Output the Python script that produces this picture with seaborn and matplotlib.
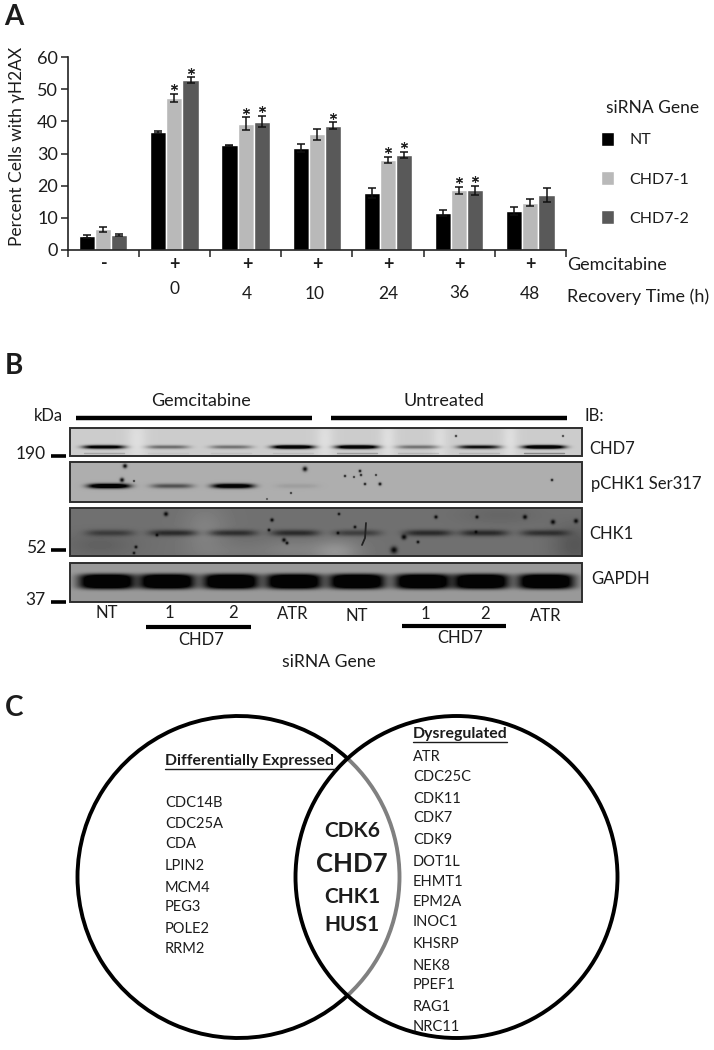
#!/usr/bin/env python3
import numpy as np
import pandas as pd
import matplotlib
matplotlib.use("Agg")
import matplotlib.pyplot as plt
from matplotlib.patches import Arc, Circle, Rectangle
import seaborn as sns

sns.set_theme(style="white")
plt.rcParams['font.family'] = ['Lato', 'DejaVu Sans']

W, H = 714, 1050

# Panel A values
groups = ['-', '0', '4', '10', '24', '36', '48']
treat_marks = ['-', '+', '+', '+', '+', '+', '+']
time_labels = ['', '0', '4', '10', '24', '36', '48']
genes = ['NT', 'CHD7-1', 'CHD7-2']
gene_colors = ['#000000', '#b9b9b9', '#595959']
nt_vals = [4.3, 36.8, 32.5, 31.7, 17.7, 11.5, 12.1]
chd7_1_vals = [6.5, 47.3, 39.2, 36.0, 28.0, 18.6, 14.7]
chd7_2_vals = [4.7, 52.8, 39.9, 38.7, 29.5, 18.6, 17.0]
nt_err = [0.5, 0.3, 0.2, 1.2, 1.5, 0.8, 1.2]
chd7_1_err = [0.8, 1.3, 2.0, 1.7, 1.0, 1.1, 1.1]
chd7_2_err = [0.4, 0.9, 1.8, 1.0, 1.0, 1.4, 2.2]
chd7_1_star = [0, 1, 1, 0, 1, 1, 0]
chd7_2_star = [0, 1, 1, 1, 1, 1, 0]

# Panel B band strengths, one per lane
lane_names = ['NT', '1', '2', 'ATR', 'NT', '1', '2', 'ATR']
chd7_bands = [0.80, 0.32, 0.30, 0.95, 0.95, 0.30, 0.65, 0.98]
chd7_lower = [0.25, 0.05, 0.08, 0.10, 0.30, 0.15, 0.15, 0.45]
pchk1_bands = [0.98, 0.36, 0.88, 0.06, 0, 0, 0, 0]
chk1_bands = [0.30, 0.42, 0.40, 0.42, 0.30, 0.42, 0.42, 0.38]
gapdh_bands = [1, 1, 1, 1, 1, 1, 1, 1]

# dust on the membranes: x, y, radius
pchk1_specks = [(125, 466, 2.2), (122, 480, 2.2), (305, 469, 2.4), (360, 471, 1.4), (361, 475, 1.2),
                (345, 476, 1.2), (354, 477, 1.0), (376, 475, 1.0), (365, 484, 1.3), (380, 484, 1.6),
                (134, 481, 1.0), (552, 480, 1.3), (291, 493, 1.0), (267, 499, 0.8)]
chk1_specks = [(166, 514, 2.2), (272, 520, 1.8), (269, 530, 1.5), (284, 540, 2.0), (287, 543, 1.6),
               (136, 547, 1.6), (134, 553, 1.4), (339, 514, 1.4), (355, 527, 1.5), (338, 533, 1.5),
               (436, 517, 1.8), (477, 517, 1.7), (476, 532, 1.5), (525, 517, 2.2), (553, 522, 2.3),
               (576, 521, 2.2), (404, 537, 2.6), (418, 542, 1.5), (394, 550, 3.4), (157, 535, 1.5)]
chd7_specks = [(456, 436, 1.1), (563, 436, 1.0)]
# lighter or darker clouds behind the bands: x, y, x radius, y radius, change
chk1_clouds = [(205, 530, 22, 25, 0.07), (100, 545, 35, 12, -0.06), (336, 552, 24, 12, 0.14),
               (290, 550, 28, 10, 0.06), (575, 545, 22, 20, -0.10), (230, 552, 40, 8, 0.03),
               (500, 515, 40, 10, -0.04)]
chd7_clouds = [(137, 440, 10, 30, 0.07), (325, 440, 9, 30, 0.07), (388, 440, 8, 30, 0.07),
               (510, 440, 8, 30, 0.07), (440, 440, 8, 30, 0.06)]

# Panel C gene lists
left_genes = ['CDC14B', 'CDC25A', 'CDA', 'LPIN2', 'MCM4', 'PEG3', 'POLE2', 'RRM2']
right_genes = ['ATR', 'CDC25C', 'CDK11', 'CDK7', 'CDK9', 'DOT1L', 'EHMT1', 'EPM2A',
               'INOC1', 'KHSRP', 'NEK8', 'PPEF1', 'RAG1', 'NRC11']
shared_genes = ['CDK6', 'CHD7', 'CHK1', 'HUS1']


def blot_strip(ax, y0, y1, bg, centers, strengths, half_w, band_y, half_h, specks=(), clouds=(), yexp=2):
    """Draw one blot strip as a grey image with soft bands, clouds and dust."""
    x0, x1 = 70, 582
    xx, yy = np.meshgrid(np.arange(x0, x1) + 0.5, np.arange(y0, y1) + 0.5)
    img = np.full(xx.shape, bg, dtype=float)
    for cx, cy, rx, ry, change in clouds:
        img = img + change * np.exp(-((xx - cx) / rx) ** 2 - ((yy - cy) / ry) ** 2)
    for cx, s in zip(centers, strengths):
        band = np.abs((yy - band_y) / half_h) ** yexp + ((xx - cx) / half_w) ** 4
        img = img * (1 - np.clip(1.5 * s * np.exp(-band), 0, 0.98))
    for sx, sy, sr in specks:
        img = img * (1 - 0.92 * np.exp(-((xx - sx) ** 2 + (yy - sy) ** 2) / sr ** 2))
    ax.imshow(img, extent=(x0, x1, y1, y0), cmap='gray', vmin=0, vmax=1,
              aspect='auto', interpolation='bilinear', zorder=1)
    ax.add_patch(Rectangle((x0, y0), x1 - x0, y1 - y0, fill=False, ec='#2e2e2e', lw=1.4, zorder=2))


fig = plt.figure(figsize=(W / 100, H / 100), dpi=100)
page = fig.add_axes([0, 0, 1, 1])
ink = '#1c1c1c'


def label(x, y, s, size=12, ha='left', weight='normal', **kw):
    page.text(x, y, s, fontsize=size, ha=ha, va='center', weight=weight, color=ink, **kw)


# Panel A
ax = fig.add_axes([67.6 / W, (H - 250) / H, (566 - 67.6) / W, 193 / H])
df = pd.DataFrame({
    'group': groups * 3,
    'gene': np.repeat(genes, len(groups)),
    'value': nt_vals + chd7_1_vals + chd7_2_vals,
})
sns.barplot(data=df, x='group', y='value', hue='gene', palette=gene_colors, hue_order=genes,
            order=groups, width=0.68, errorbar=None, saturation=1, ax=ax)
errs = [nt_err, chd7_1_err, chd7_2_err]
stars = [[0] * 7, chd7_1_star, chd7_2_star]
for cont, err, star in zip(ax.containers, errs, stars):
    xs = [p.get_x() + p.get_width() / 2 for p in cont]
    ys = [p.get_height() for p in cont]
    ax.errorbar(xs, ys, yerr=err, fmt='none', ecolor='#111111', elinewidth=1.1, capsize=3, capthick=1.1)
    for x, y, e, st in zip(xs, ys, err, star):
        if st:
            ax.plot(x, y + e + 2.0, marker=(6, 2, 0), ms=5, mew=0.8, color='#222222', clip_on=False)
ax.set_xlim(-0.5, 6.5)
ax.set_ylim(0, 60)
ax.set_xticks(np.arange(-0.5, 7))
ax.set_xticklabels([])
ax.set_yticks(range(0, 61, 10))
ax.tick_params(axis='both', direction='out', length=5, width=1.1, color='#222222', bottom=True, left=True)
ax.tick_params(axis='y', labelsize=13, pad=2, labelcolor=ink)
ax.set_xlabel('')
ax.set_ylabel('')
ax.patch.set_alpha(0)
sns.despine(ax=ax)
for side in ['left', 'bottom']:
    ax.spines[side].set_linewidth(1.2)
    ax.spines[side].set_color('#222222')
handles, names = ax.get_legend_handles_labels()
leg = ax.legend(handles, names, title='siRNA Gene', frameon=False, fontsize=11.5, title_fontsize=12.5,
                handlelength=0.85, handleheight=1.0, handletextpad=0.95, labelspacing=1.48,
                loc='upper left', bbox_to_anchor=(584 / W, (H - 86) / H), bbox_transform=fig.transFigure)
leg._legend_box.sep = 11
leg.get_title().set_position((8.0, 0))
for t in leg.get_texts() + [leg.get_title()]:
    t.set_color(ink)

# Panel labels and text sit on one page axes in pixel coordinates
label(14, 17, 'A', size=20, ha='center', weight='bold')
label(14, 366, 'B', size=20, ha='center', weight='bold')
label(14, 708, 'C', size=20, ha='center', weight='bold')
label(17, 146, 'Percent Cells with γH2AX', size=12.5, ha='center', rotation=90)
mark_xs = [104, 174, 247, 317, 388, 459, 530]
time_xs = [104, 175, 247, 315, 388, 459, 530]
time_ys = [294, 289, 294, 294, 294, 293, 294]
for x, m in zip(mark_xs, treat_marks):
    label(x, 264, m, size=13, ha='center', weight='bold')
for x, y, t in zip(time_xs, time_ys, time_labels):
    label(x, y, t, size=12.5, ha='center')
label(567, 265, 'Gemcitabine', size=13)
label(567, 297, 'Recovery Time (h)', size=13)

# Panel B
chd7_lanes = [104, 168, 231, 293, 357, 418, 479, 544]
blot_strip(page, 428, 456, 0.80, chd7_lanes, chd7_bands, 21, 447, 1.9, chd7_specks, chd7_clouds)
# faint lower CHD7 band
for cx, s in zip(chd7_lanes, chd7_lower):
    page.plot([cx - 20, cx + 20], [453, 453], color='#333333', alpha=s, lw=1.0, zorder=1.5)
blot_strip(page, 462, 502, 0.68, [109, 172, 233, 297, 357, 419, 481, 546], pchk1_bands, 21, 486, 2.4, pchk1_specks)
blot_strip(page, 508, 556, 0.44, [110, 173, 233, 295, 357, 428, 484, 545], chk1_bands, 24, 533, 3.2,
           chk1_specks, chk1_clouds)
blot_strip(page, 563, 602, 0.60, [107, 167, 231, 294, 357, 423, 481, 546], gapdh_bands, 28, 581.5, 7.5, yexp=4)
page.plot([366, 365, 362], [523, 538, 545], color='#222222', lw=1.3, zorder=3)

for x0, x1 in [(76, 312), (331, 567)]:
    page.plot([x0, x1], [418, 418], color='black', lw=3.2, solid_capstyle='butt')
for x0, x1, y in [(146, 251, 627), (402, 506, 626)]:
    page.plot([x0, x1], [y, y], color='black', lw=3.0, solid_capstyle='butt')
label(201, 401, 'Gemcitabine', size=13, ha='center')
label(444, 401, 'Untreated', size=13, ha='center')
label(48, 416, 'kDa', ha='center')
label(585, 416, 'IB:')
for y, s in [(455, '190'), (549, '52'), (601, '37')]:
    label(46, y - 1, s, ha='right', size=12.5)
    page.plot([51, 66], [y + 1, y + 1], color='black', lw=2.6, solid_capstyle='butt')
for y, s, x in [(449, 'CHD7', 589), (484, 'pCHK1 Ser317', 591), (534, 'CHK1', 589), (579, 'GAPDH', 591)]:
    label(x, y, s)
lane_xs = [107, 169, 233, 293, 357, 425, 485, 546]
lane_ys = [613, 613, 613, 614, 616, 614, 614, 616]
for x, y, s in zip(lane_xs, lane_ys, lane_names):
    label(x, y, s, ha='center')
label(201, 640, 'CHD7', ha='center')
label(460, 638, 'CHD7', ha='center')
label(329, 662, 'siRNA Gene', size=12.6, ha='center')

# Panel C
lx, rx, cy, r = 238.5, 456.5, 877, 161
page.add_patch(Arc((lx, cy), 2 * r, 2 * r, theta1=47.4, theta2=312.6, ec='black', lw=2.8))
page.add_patch(Arc((lx, cy), 2 * r, 2 * r, theta1=-47.4, theta2=47.4, ec='#808080', lw=2.8))
page.add_patch(Circle((rx, cy), r, fill=False, ec='black', lw=2.8))

label(165, 761, 'Differentially Expressed', size=11.3, weight='bold')
page.plot([165, 335], [769, 769], color=ink, lw=1.0)
label(413, 734, 'Dysregulated', size=11.4, weight='bold')
page.plot([413, 507], [742, 742], color=ink, lw=1.0)
left_ys = [803, 824, 844, 866, 888, 907, 929, 949]
right_ys = [757, 777, 799, 818, 840, 862, 882, 902, 922, 944, 966, 985, 1007, 1027]
for y, s in zip(left_ys, left_genes):
    label(165, y, s, size=10.5)
for y, s in zip(right_ys, right_genes):
    label(413, y, s, size=10.5)
shared_ys = [831, 864, 897, 925]
shared_sizes = [15, 18.5, 15, 15]
for y, s, sz in zip(shared_ys, shared_genes, shared_sizes):
    label(352, y, s, size=sz, ha='center', weight='bold')

page.set_xlim(0, W)
page.set_ylim(H, 0)
page.axis('off')

fig.savefig('out.png', dpi=100)
